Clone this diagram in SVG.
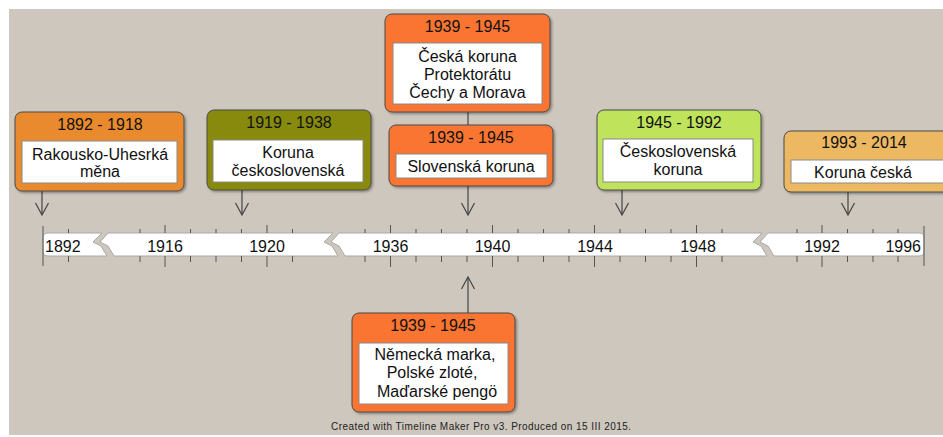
<svg xmlns="http://www.w3.org/2000/svg" width="943" height="437" viewBox="0 0 943 437">
<defs>
<style>
text{font-family:"Liberation Sans",Arial,sans-serif;fill:#111;}
.h{font-size:16px;text-anchor:middle;}
.t{font-size:16px;text-anchor:middle;}
.y{font-size:16px;text-anchor:middle;}
.box{stroke:#4a4a4a;stroke-width:1;filter:url(#sh);}
.in{fill:#fff;stroke:#8a8a8a;stroke-width:1;}
.con{stroke:#444;stroke-width:1.2;fill:none;}
.tk{stroke:#555;stroke-width:1;}
.band{fill:#fff;stroke:#a9a9a9;stroke-width:1;}
</style>
<filter id="sh" x="-10%" y="-10%" width="130%" height="130%">
<feDropShadow dx="1.5" dy="1.5" stdDeviation="1.2" flood-color="#000" flood-opacity="0.35"/>
</filter>
<marker id="arr" viewBox="-14 -8 16 16" markerWidth="16" markerHeight="16" refX="0" refY="0" orient="auto" markerUnits="userSpaceOnUse">
<path d="M-12,-6.5 L0,0 L-12,6.5" fill="none" stroke="#444" stroke-width="1.2"/>
</marker>
</defs>
<rect x="0" y="0" width="943" height="437" fill="#fff"/>
<rect x="9" y="9" width="934" height="426" fill="#cdc7be"/>

<g id="timeline">
<path class="band" d="M48,233 L102,233 L93,242 L101,246 L107,256 L48,256 Q43,256 43,251 L43,238 Q43,233 48,233 Z"/>
<path class="band" d="M108,233 L333,233 L324,242 L332,246 L338,256 L114,256 L108,246 L100,242 Z"/>
<path class="band" d="M339,233 L762,233 L753,242 L761,246 L767,256 L345,256 L339,246 L331,242 Z"/>
<path class="band" d="M768,233 L919,233 Q924,233 924,238 L924,251 Q924,256 919,256 L774,256 L768,246 L760,242 Z"/>
<line class="tk" x1="43" y1="226" x2="43" y2="266"/>
<line class="tk" x1="924" y1="226" x2="924" y2="266"/>
<g class="tk">
<path d="M68.5,229V233M68.5,256V262
M140,229V233M140,256V262
M165,225V233M165,256V267
M190.5,229V233M190.5,256V262
M216,229V233M216,256V262
M241.5,229V233M241.5,256V262
M267,225V233M267,256V267
M292.5,229V233M292.5,256V262
M365,229V233M365,256V262
M390.5,225V233M390.5,256V267
M416,229V233M416,256V262
M441.5,229V233M441.5,256V262
M467,229V233M467,256V262
M492.5,225V233M492.5,256V267
M518,229V233M518,256V262
M543.5,229V233M543.5,256V262
M569,229V233M569,256V262
M594.5,225V233M594.5,256V267
M620,229V233M620,256V262
M645.5,229V233M645.5,256V262
M671,229V233M671,256V262
M696.5,225V233M696.5,256V267
M722,229V233M722,256V262
M797,229V233M797,256V262
M822,225V233M822,256V267
M847.5,229V233M847.5,256V262
M873,229V233M873,256V262
M898,229V233M898,256V262"/>
</g>
<text class="y" x="45" y="252" style="text-anchor:start">1892</text>
<text class="y" x="165" y="252">1916</text>
<text class="y" x="267" y="252">1920</text>
<text class="y" x="390.5" y="252">1936</text>
<text class="y" x="492.5" y="252">1940</text>
<text class="y" x="595" y="252">1944</text>
<text class="y" x="698" y="252">1948</text>
<text class="y" x="822" y="252">1992</text>
<text class="y" x="921" y="252" style="text-anchor:end">1996</text>
</g>

<g id="connectors">
<line class="con" x1="42" y1="191" x2="42" y2="215" marker-end="url(#arr)"/>
<line class="con" x1="242" y1="190" x2="242" y2="215" marker-end="url(#arr)"/>
<line class="con" x1="468" y1="112" x2="468" y2="125"/>
<line class="con" x1="468" y1="186" x2="468" y2="215" marker-end="url(#arr)"/>
<line class="con" x1="622" y1="190" x2="622" y2="215" marker-end="url(#arr)"/>
<line class="con" x1="848" y1="192" x2="848" y2="215" marker-end="url(#arr)"/>
<line class="con" x1="468" y1="313" x2="468" y2="277" marker-end="url(#arr)"/>
</g>

<g id="n1892">
<rect class="box" x="15" y="112" width="169" height="79" rx="7" fill="#e98a2e"/>
<text class="h" x="100" y="130">1892 - 1918</text>
<rect class="in" x="22" y="141" width="155" height="42"/>
<text class="t" x="100" y="160">Rakousko-Uhesrká</text>
<text class="t" x="100" y="177">měna</text>
</g>

<g id="n1919">
<rect class="box" x="207" y="110" width="164" height="80" rx="7" fill="#878a0c"/>
<text class="h" x="289" y="128">1919 - 1938</text>
<rect class="in" x="213" y="140" width="150" height="42"/>
<text class="t" x="288" y="158">Koruna</text>
<text class="t" x="288" y="176">československá</text>
</g>

<g id="n1939a">
<rect class="box" x="385" y="14" width="165" height="98" rx="7" fill="#fa7433"/>
<text class="h" x="467.5" y="32">1939 - 1945</text>
<rect class="in" x="393" y="43" width="149" height="61"/>
<text class="t" x="467.5" y="62">Česká koruna</text>
<text class="t" x="467.5" y="80">Protektorátu</text>
<text class="t" x="467.5" y="98">Čechy a Morava</text>
</g>

<g id="n1939b">
<rect class="box" x="389" y="125" width="164" height="61" rx="7" fill="#fa7433"/>
<text class="h" x="471" y="143">1939 - 1945</text>
<rect class="in" x="396" y="154" width="151" height="24"/>
<text class="t" x="471" y="172">Slovenská koruna</text>
</g>

<g id="n1945">
<rect class="box" x="597" y="110" width="164" height="80" rx="7" fill="#bfe35a"/>
<text class="h" x="679" y="128">1945 - 1992</text>
<rect class="in" x="603" y="139" width="150" height="43"/>
<text class="t" x="678" y="157">Československá</text>
<text class="t" x="678" y="175">koruna</text>
</g>

<g id="n1993">
<rect class="box" x="784" y="131" width="170" height="61" rx="7" fill="#ecb862"/>
<text class="h" x="864" y="148">1993 - 2014</text>
<rect class="in" x="791" y="160" width="160" height="23"/>
<text class="t" x="863" y="178">Koruna česká</text>
</g>

<g id="n1939c">
<rect class="box" x="352" y="313" width="163" height="99" rx="7" fill="#fa7433"/>
<text class="h" x="433" y="331">1939 - 1945</text>
<rect class="in" x="359" y="343" width="149" height="61"/>
<text class="t" x="435" y="360">Německá marka,</text>
<text class="t" x="432" y="378">Polské zloté,</text>
<text class="t" x="437" y="397">Maďarské pengö</text>
</g>

<text x="481" y="430" style="font-size:10px;text-anchor:middle;fill:#222" textLength="300" lengthAdjust="spacing">Created with Timeline Maker Pro v3. Produced on 15 III 2015.</text>
</svg>
